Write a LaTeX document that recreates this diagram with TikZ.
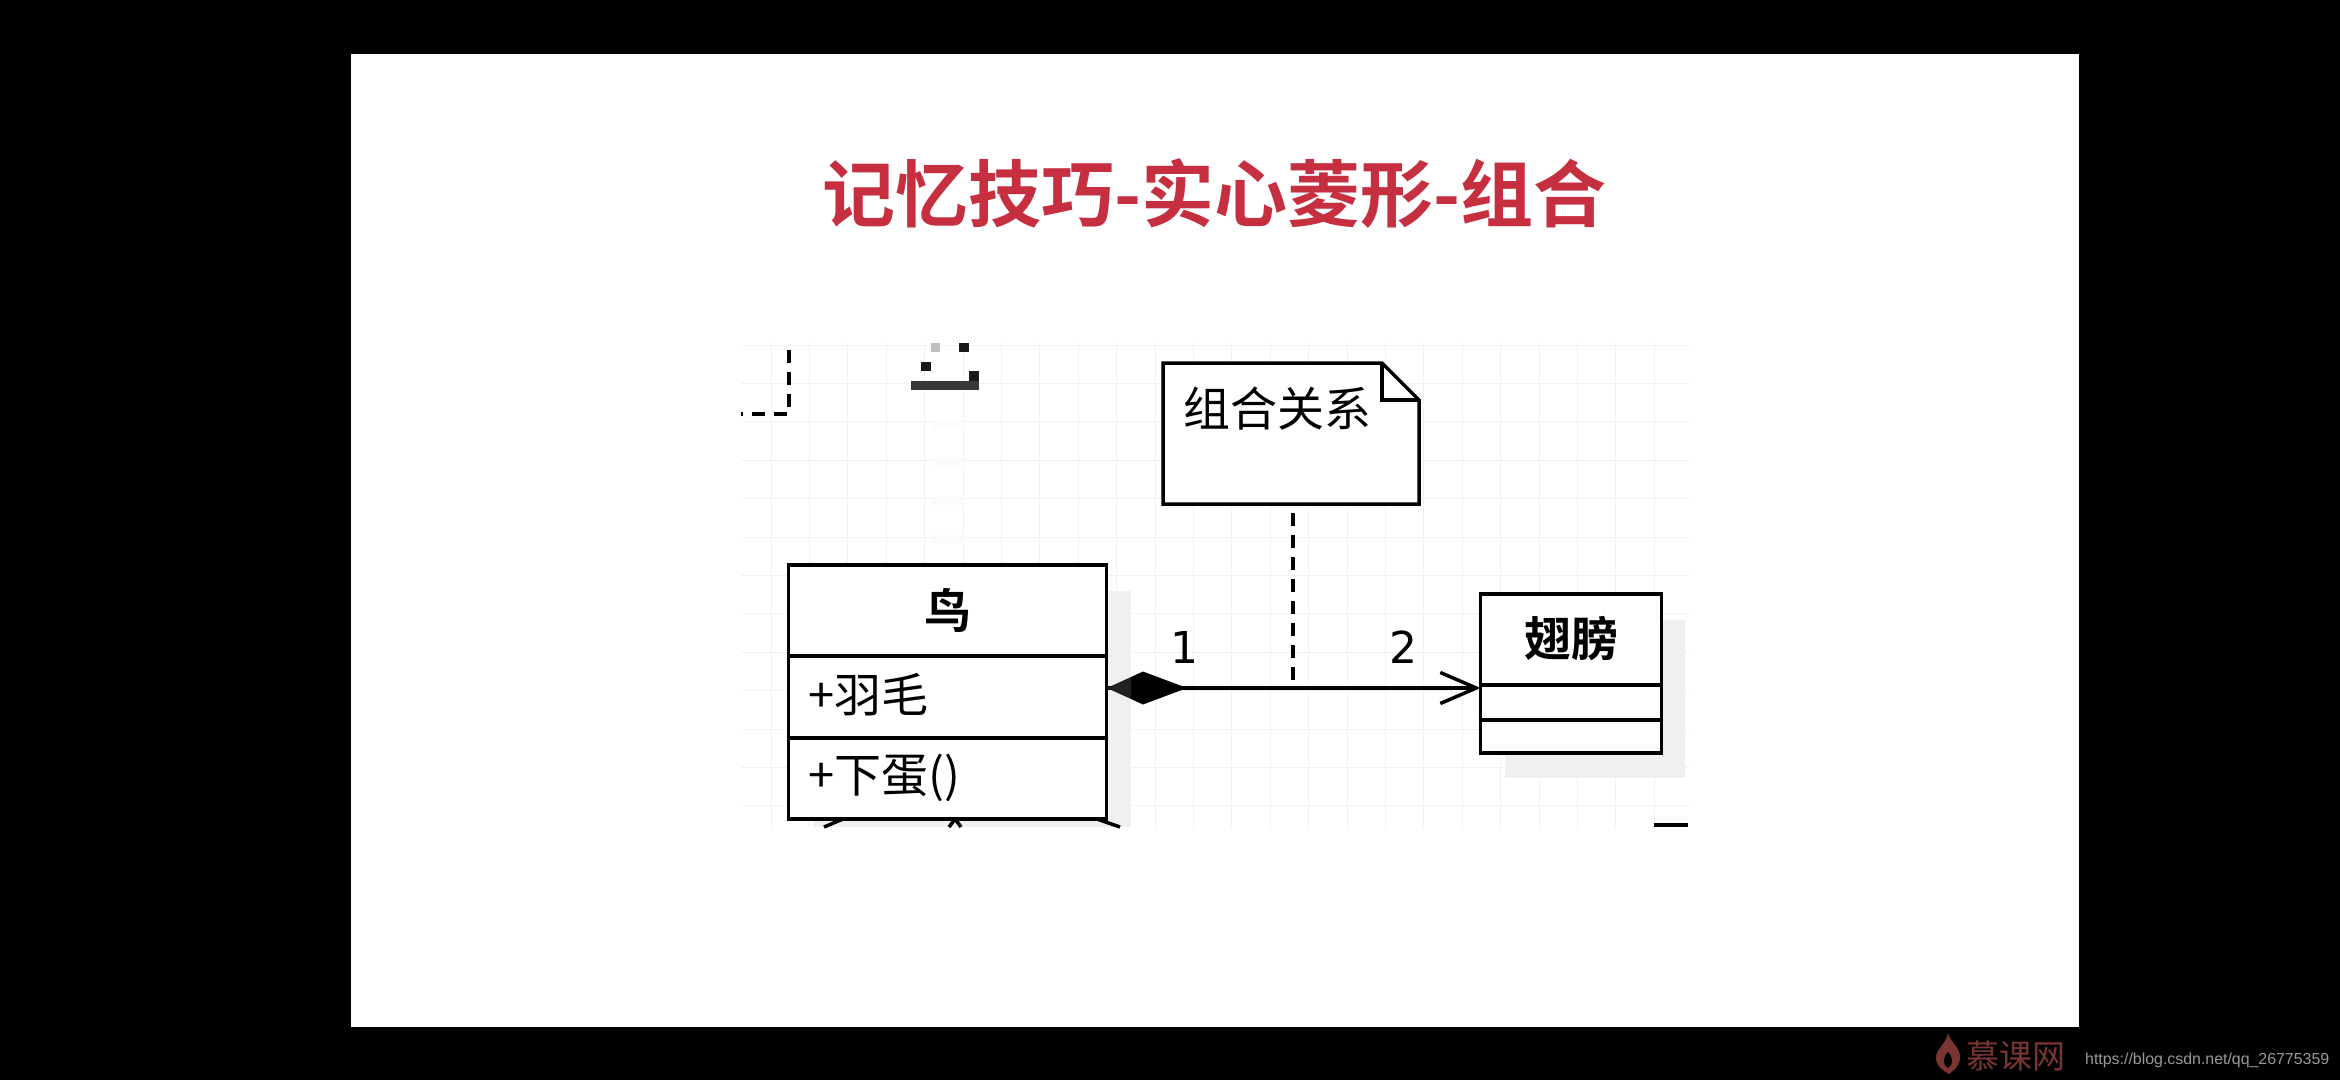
\documentclass[tikz,border=0pt]{standalone}
\usepackage{fontspec}
\setmainfont{DejaVu Sans}
\newfontfamily\cjk{Noto Sans CJK SC}
\newfontfamily\cjkb{Noto Sans CJK SC Bold}
\newfontfamily\lat{Liberation Sans}
\usetikzlibrary{arrows.meta}
\definecolor{gridc}{HTML}{F1F0F4}
\definecolor{shadowc}{HTML}{F0EFF2}
\definecolor{titlec}{HTML}{C62F40}
\definecolor{markc}{HTML}{7A3532}
\tikzset{
  umlbox/.style={draw=black,line width=3.5pt,fill=white,inner sep=0pt},
  rule/.style={line width=3.5pt,black},
  body/.style={inner sep=0pt,font=\cjk\fontsize{47}{50}\selectfont},
  headb/.style={inner sep=0pt,font=\cjkb\fontsize{47}{50}\selectfont},
  num/.style={inner sep=0pt,font=\fontsize{44}{50}\selectfont},
  bit/.style={fill=#1},
  dashedl/.style={line width=4pt,dash pattern=on 13pt off 9pt}
}
\begin{document}
\begin{tikzpicture}[x=1pt,y=-1pt]
\useasboundingbox (0,0) rectangle (2340,1080);
\fill[black] (0,0) rectangle (2340,1080);
\fill[white] (351,54) rectangle (2079,1027);
% grid
\foreach \xx in {771,809.4,...,1690} \draw[gridc,line width=1pt] (\xx,343) -- (\xx,827);
\foreach \yy in {345,383.4,...,827} \draw[gridc,line width=1pt] (741,\yy) -- (1690,\yy);
% shadows
\fill[shadowc] (813,591) rectangle (1131,827);
\fill[shadowc] (1505,620) rectangle (1685,778);
% title
\node[inner sep=0pt,text=titlec,font=\cjkb\fontsize{73}{80}\selectfont] (title) at (1214,194) {记忆技巧-实心菱形-组合};
% pixel fragments top
\fill[bit=gray!50] (931,343) rectangle (940,352);
\fill[bit=black!90] (959,343) rectangle (969,352);
\fill[bit=black!90] (921,362) rectangle (931,371);
\fill[bit=black!90] (969,371) rectangle (979,382);
\fill[bit=black!78] (911,381) rectangle (979,390);
\foreach \yy in {424,462,501,539} \fill[white!97!gray] (933,\yy-4) rectangle (965,\yy+4);
% dashed fragment top-left
\coordinate (fragA) at (789,350);
\coordinate (fragB) at (789,414);
\coordinate (fragC) at (741,414);
\draw[dashedl] (fragA) -- (fragB) -- (fragC);
% fragments below bird
\draw[rule] (824,827) -- (843,819);
\draw[rule] (955,819) -- (949,827);
\draw[rule] (955,819) -- (961,827);
\draw[rule] (1097,819) -- (1120,827);
\draw[rule] (1654,825) -- (1688,825);
% bird class
\node[umlbox,minimum width=318pt,minimum height=254pt] (bird) at (947.5,692) {};
\draw[rule] (bird.west |- 0,656) -- (bird.east |- 0,656);
\draw[rule] (bird.west |- 0,738) -- (bird.east |- 0,738);
\node[headb] (birdname) at (948,610) {鸟};
\node[body,anchor=west] (birdattr) at (808,695) {+羽毛};
\node[body,anchor=west] (birdop) at (808,778) {+下蛋()};
% wing class
\node[umlbox,minimum width=181pt,minimum height=159pt] (wing) at (1571,673.5) {};
\draw[rule] (wing.west |- 0,685) -- (wing.east |- 0,685);
\draw[rule] (wing.west |- 0,720) -- (wing.east |- 0,720);
\node[headb] (wingname) at (1571,639) {翅膀};
% note
\coordinate (n1) at (1163,363);
\coordinate (n2) at (1382,363);
\coordinate (n3) at (1419,400);
\coordinate (n4) at (1419,504);
\coordinate (n5) at (1163,504);
\coordinate (n6) at (1382,400);
\draw[umlbox,line join=miter] (n1) -- (n2) -- (n3) -- (n4) -- (n5) -- cycle;
\draw[rule] (n2) -- (n6) -- (n3);
\node[body,anchor=west] (notetext) at (1183,409) {组合关系};
% association
\coordinate (bport) at (bird.east |- 0,688);
\coordinate (wport) at (wing.west |- 0,688);
\coordinate (junction) at (1293,688);
\coordinate (notefoot) at (1293,513);
\draw[rule,-{Straight Barb[length=36pt,width=31pt,line width=3.5pt,black]}] (bport) -- ([xshift=2pt]wport);
\fill[black] (1131,677) -- (1143,671.5) -- (1187,688) -- (1143,704.5) -- (1131,699) -- cycle;
\fill[black!87] (1107,688) -- (1131,677) -- (1131,699) -- cycle;
\draw[dashedl] (notefoot) -- (junction);
\node[num] (m1) at (1184,647) {1};
\node[num] (m2) at (1403,647) {2};
% watermark
\fill[markc] (1948,1033) .. controls (1950,1042) and (1960,1047) .. (1960,1057)
  .. controls (1960,1066) and (1954,1070) .. (1949,1074)
  .. controls (1942,1070) and (1936,1066) .. (1936,1057)
  .. controls (1936,1049) and (1946,1044) .. (1948,1033) -- cycle;
\fill[black] (1948,1052) .. controls (1954,1058) and (1953,1065) .. (1948,1068)
  .. controls (1943,1065) and (1942,1058) .. (1948,1052) -- cycle;
\node[inner sep=0pt,anchor=west,text=markc,font=\cjk\fontsize{33}{36}\selectfont] (markt) at (1966,1056) {慕课网};
\node[inner sep=0pt,anchor=west,text=black!40!white,font=\lat\fontsize{15.9}{20}\selectfont] (url) at (2085,1060) {https://blog.csdn.net/qq\_26775359};
\end{tikzpicture}
\end{document}
